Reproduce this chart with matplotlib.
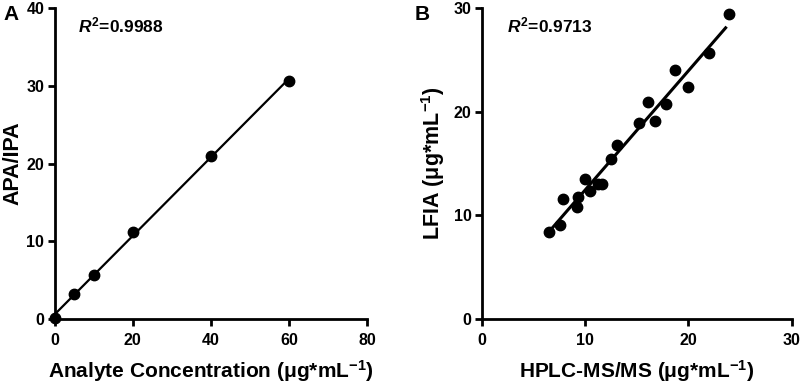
import numpy as np
import matplotlib.pyplot as plt

plt.rcParams["font.family"] = ["Liberation Sans", "DejaVu Sans"]
plt.rcParams["font.weight"] = "bold"
plt.rcParams["mathtext.fontset"] = "custom"
plt.rcParams["mathtext.rm"] = "Liberation Sans:bold"
plt.rcParams["mathtext.bf"] = "Liberation Sans:bold"
plt.rcParams["mathtext.it"] = "Liberation Sans:bold:italic"

# Panel A: calibration
conc = [0, 5, 10, 20, 40, 60]
ratio = [0.1, 3.2, 5.6, 11.2, 21.0, 30.6]

# Panel B: LFIA vs HPLC-MS/MS
hplc = [6.5, 7.6, 7.9, 9.2, 9.3, 10.0, 10.45, 11.2, 11.6, 12.5,
        13.06, 15.26, 16.06, 16.8, 17.8, 18.7, 20.0, 22.0, 23.9]
lfia = [8.4, 9.1, 11.6, 10.8, 11.75, 13.5, 12.35, 13.0, 13.0, 15.4,
        16.8, 18.9, 20.9, 19.1, 20.7, 24.0, 22.4, 25.7, 29.4]


def style(ax):
    for s in ("top", "right"):
        ax.spines[s].set_visible(False)
    for s in ("left", "bottom"):
        ax.spines[s].set_linewidth(2)
    ax.tick_params(width=2, length=5, labelsize=11.5)
    ax.tick_params(axis="x", pad=5)
    ax.tick_params(axis="y", pad=2.5)
    for lab in ax.get_xticklabels() + ax.get_yticklabels():
        lab.set_fontweight("bold")


fig = plt.figure(figsize=(8.03, 3.88), dpi=100)
axA = fig.add_axes([0.068, 0.178, 0.389, 0.801])
axB = fig.add_axes([0.600, 0.178, 0.386, 0.801])

# A
axA.plot(conc, ratio, "o", color="black", ms=7.5, clip_on=False, zorder=3)
k, b = np.polyfit(conc, ratio, 1)
xs = np.array([0, 60])
axA.plot(xs, k * xs + b, color="black", lw=1.6, clip_on=False)
axA.set_xlim(0, 80)
axA.set_ylim(0, 40)
axA.set_xticks([0, 20, 40, 60, 80])
axA.set_yticks([0, 10, 20, 30, 40])
axA.set_xlabel("Analyte Concentration (μg*mL$^{-1}$)", fontsize=15,
               fontweight="bold")
axA.set_ylabel("APA/IPA", fontsize=15.5, fontweight="bold")
axA.xaxis.set_label_coords(0.5, -0.125)
axA.yaxis.set_label_coords(-0.10, 0.5)
axA.text(0.075, 0.945, "$\\mathit{R}^{2}$=0.9988", transform=axA.transAxes,
         fontsize=12.5, fontweight="bold", va="center")
style(axA)

# B
axB.plot(hplc, lfia, "o", color="black", ms=7.5, clip_on=False, zorder=3)
k2, b2 = np.polyfit(hplc, lfia, 1)
xs2 = np.array([min(hplc), max(hplc) - 0.3])
axB.plot(xs2, k2 * xs2 + b2, color="black", lw=2.2)
axB.set_xlim(0, 30)
axB.set_ylim(0, 30)
axB.set_xticks([0, 10, 20, 30])
axB.set_yticks([0, 10, 20, 30])
axB.set_xlabel("HPLC-MS/MS (μg*mL$^{-1}$)", fontsize=15, fontweight="bold")
axB.set_ylabel("LFIA (μg*mL$^{-1}$)", fontsize=15.5, fontweight="bold")
axB.xaxis.set_label_coords(0.5, -0.125)
axB.yaxis.set_label_coords(-0.113, 0.5)
axB.text(0.08, 0.945, "$\\mathit{R}^{2}$=0.9713", transform=axB.transAxes,
         fontsize=12.5, fontweight="bold", va="center")
style(axB)

fig.text(0.004, 0.962, "A", fontsize=15, fontweight="bold", va="center")
fig.text(0.516, 0.962, "B", fontsize=15, fontweight="bold", va="center")

fig.savefig("out.png", dpi=100)
